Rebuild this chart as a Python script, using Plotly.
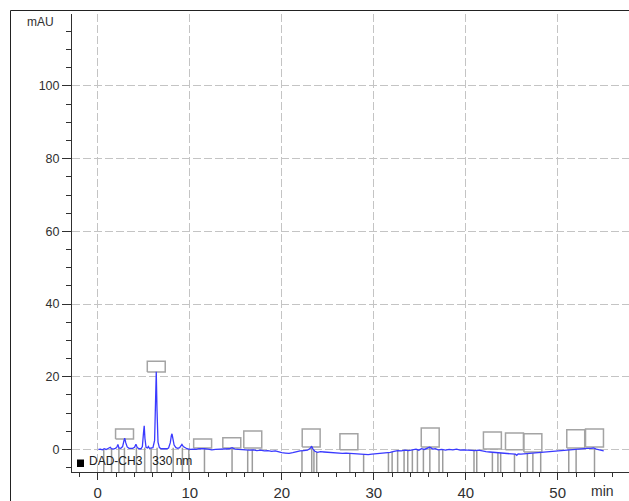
import numpy as np
import plotly.graph_objects as go

# ---- chromatogram data: DAD-CH3, 330 nm ----
rt = [0.08, 0.3, 0.5, 0.7, 0.9, 1.1, 1.25, 1.36, 1.48, 1.7, 1.9, 2.05, 2.19, 2.3, 2.5,
      2.7, 2.85, 2.93, 3.05, 3.2, 3.4, 3.6, 3.8, 4.0, 4.15, 4.3, 4.5, 4.7, 4.85, 4.97,
      5.05, 5.13, 5.25, 5.4, 5.5, 5.62, 5.8, 6.0, 6.18, 6.28, 6.36, 6.44, 6.55, 6.7, 6.9,
      7.1, 7.3, 7.5, 7.7, 7.88, 8.0, 8.07, 8.17, 8.3, 8.5, 8.7, 8.9, 9.05, 9.15, 9.3,
      9.5, 9.7, 9.9, 10.1, 10.4, 10.7, 11.0, 11.3, 11.6, 12.0, 12.4, 12.8, 13.2, 13.6, 14.0,
      14.3, 14.6, 14.9, 15.3, 15.7, 16.1, 16.5, 16.9, 17.3, 17.7, 18.1, 18.5, 18.9, 19.3, 19.7,
      20.0, 20.4, 20.8, 21.2, 21.6, 22.0, 22.4, 22.8, 23.1, 23.25, 23.4, 23.6, 23.9, 24.2, 24.6,
      25.0, 25.4, 25.8, 26.2, 26.6, 27.0, 27.4, 27.8, 28.2, 28.6, 29.0, 29.4, 29.8, 30.2, 30.6,
      31.0, 31.4, 31.8, 32.2, 32.6, 33.0, 33.4, 33.8, 34.2, 34.6, 34.9, 35.2, 35.5, 35.8, 36.05,
      36.2, 36.4, 36.7, 37.0, 37.4, 37.8, 38.2, 38.6, 39.0, 39.4, 39.8, 40.2, 40.6, 41.0, 41.4,
      41.8, 42.2, 42.6, 43.0, 43.4, 43.8, 44.2, 44.6, 45.0, 45.4, 45.55, 45.7, 46.0, 46.4, 46.8,
      47.2, 47.6, 48.0, 48.4, 48.8, 49.2, 49.6, 50.0, 50.4, 50.8, 51.2, 51.6, 52.0, 52.4, 52.8,
      53.2, 53.6, 53.9, 54.2, 54.5, 54.8, 55.0]
mau = [0.0, 0.1, -0.1, 0.2, 0.0, 0.2, 0.3, 0.6, 0.2, 0.1, 0.3, 0.5, 1.4, 0.4, 0.3,
       0.8, 2.4, 3.1, 1.8, 0.7, 0.3, 0.2, 0.3, 0.6, 1.4, 0.5, 0.2, 0.2, 0.8, 4.5,
       6.5, 3.0, 0.6, 0.4, 0.8, 0.3, 0.3, 0.5, 2.5, 12.0, 21.4, 11.0, 2.0, 0.5, 0.2,
       0.2, 0.1, 0.2, 0.4, 1.8, 3.8, 4.3, 3.0, 1.2, 0.5, 0.3, 0.5, 1.1, 1.4, 0.8,
       0.4, 0.2, 0.1, 0.0, 0.1, 0.0, 0.2, 0.1, 0.2, 0.1, -0.1, 0.0, 0.1, 0.0, 0.2,
       0.2, 0.5, 0.1, 0.0, -0.1, 0.0, -0.2, -0.1, -0.3, -0.2, -0.4, -0.3, -0.5, -0.4, -0.7,
       -0.9, -1.0, -1.1, -0.9, -0.6, -0.4, -0.3, -0.2, 0.3, 0.9, 0.1, -0.5, -0.8, -0.6, -0.7,
       -0.8, -0.9, -1.0, -0.9, -1.1, -1.0, -1.1, -1.2, -1.3, -1.2, -1.3, -1.4, -1.3, -1.2, -1.2,
       -1.1, -1.0, -0.8, -0.5, -0.3, -0.4, -0.2, -0.3, 0.0, 0.1, -0.2, 0.2, 0.0, 0.3, 0.6,
       0.5, 0.1, 0.2, -0.1, 0.0, -0.2, 0.0, -0.1, 0.1, -0.2, -0.1, -0.2, -0.2, -0.3, -0.2,
       -0.5, -0.6, -0.7, -0.8, -0.8, -0.9, -1.0, -1.0, -1.1, -1.3, -1.6, -1.2, -1.3, -1.2, -1.2,
       -1.1, -1.0, -0.9, -0.8, -0.6, -0.5, -0.4, -0.3, -0.2, -0.1, 0.0, 0.0, 0.1, 0.2, 0.2,
       0.3, 0.3, 0.4, 0.1, -0.1, -0.2, -0.4]

# integration event marks (min)
peak_marks = [0.65, 1.5, 2.3, 2.9, 4.2, 5.1, 5.8, 6.45, 8.2, 9.2, 9.9, 11.6, 14.6, 16.3,
              16.8, 22.2, 23.26, 23.5, 23.8, 27.4, 28.9, 31.6, 32.0, 32.6, 33.3, 33.7,
              34.2, 34.75, 35.4, 36.1, 37.1, 37.5, 40.9, 41.2, 42.9, 43.5, 43.8, 45.3,
              46.7, 47.3, 48.15, 51.2, 52.0, 54.0]

# peak label boxes: retention time, lower and upper edge (mAU)
label_rt = [2.91, 6.36, 11.4, 14.57, 16.85, 23.2, 27.3, 36.14, 42.9, 45.3, 47.3, 51.96, 54.0]
label_lo = [2.9, 21.3, 0.4, 0.4, 0.4, 0.7, -0.1, 0.7, 0.1, -0.1, -0.7, 0.4, 0.7]
label_hi = [5.6, 24.3, 2.9, 3.2, 5.1, 5.6, 4.3, 5.9, 4.8, 4.5, 4.3, 5.4, 5.6]

x_ticks = [0, 10, 20, 30, 40, 50]
y_ticks = [0, 20, 40, 60, 80, 100, 120]
y_ticktext = ["0", "20", "40", "60", "80", "100", ""]

# ---- layout geometry ----
W, H = 629, 501
ML, MR, MT, MB = 72, 0, 14, 29
X_RANGE = [-2.8, 57.75]
Y_RANGE = [-6.2, 119.8]
BOX_W = 1.95
FONT = "Liberation Sans, Arial, sans-serif"
INK = "#303030"


def px(x):
    return (x - ML) / (W - ML - MR)


def py(y):
    return (H - MB - y) / (H - MT - MB)


fig = go.Figure()

# vertical integration marks
mx, my = [], []
for t in peak_marks:
    top = min(float(np.interp(t, rt, mau)), 0.5)
    mx += [t, t, None]
    my += [top, Y_RANGE[0], None]
fig.add_trace(go.Scatter(x=mx, y=my, mode="lines",
                         line=dict(color="#9c9c9c", width=1.5), hoverinfo="skip"))

# label boxes
bx, by = [], []
for t, lo, hi in zip(label_rt, label_lo, label_hi):
    a, b = t - BOX_W / 2, t + BOX_W / 2
    bx += [a, b, b, a, a, None]
    by += [lo, lo, hi, hi, lo, None]
fig.add_trace(go.Scatter(x=bx, y=by, mode="lines",
                         line=dict(color="#a4a4a4", width=1.5), hoverinfo="skip"))

# signal
fig.add_trace(go.Scatter(x=rt, y=mau, mode="lines",
                         line=dict(color="#3a3aff", width=1.3)))

# outer frame
fig.add_shape(type="line", xref="paper", yref="paper",
              x0=px(10.5), x1=px(10.5), y0=py(10.5), y1=py(H + 5),
              line=dict(color="#222222", width=1))
fig.add_shape(type="line", xref="paper", yref="paper",
              x0=px(10.5), x1=px(W + 5), y0=py(10.5), y1=py(10.5),
              line=dict(color="#222222", width=1))

# legend marker
fig.add_shape(type="rect", xref="paper", yref="paper",
              x0=px(77), x1=px(84), y0=py(467), y1=py(459.5),
              fillcolor="black", line=dict(width=0))

fig.add_annotation(xref="paper", yref="paper", x=px(87), y=py(461),
                   xanchor="left", yanchor="middle", showarrow=False,
                   text="DAD-CH3\u00a0\u00a0 330 nm",
                   font=dict(family=FONT, size=12, color="#202020"))
fig.add_annotation(xref="paper", yref="paper", x=px(40), y=py(22),
                   xanchor="center", yanchor="middle", showarrow=False,
                   text="mAU", font=dict(family=FONT, size=12, color=INK))
fig.add_annotation(xref="paper", yref="paper", x=px(602), y=py(491),
                   xanchor="center", yanchor="middle", showarrow=False,
                   text="min", font=dict(family=FONT, size=14, color=INK))

grid = dict(showgrid=True, gridcolor="#c4c4c4", gridwidth=1, griddash="8px,3px")

fig.update_xaxes(range=X_RANGE, tickvals=x_ticks, ticks="outside", ticklen=7,
                 tickcolor=INK, tickwidth=1, showline=True, linecolor=INK, linewidth=1,
                 zeroline=False, tickfont=dict(family=FONT, size=15, color=INK),
                 minor=dict(dtick=2, tick0=0, ticks="outside", ticklen=4,
                            tickcolor=INK, showgrid=False),
                 **grid)
fig.update_yaxes(range=Y_RANGE, tickvals=y_ticks, ticktext=y_ticktext, ticks="outside",
                 ticklen=9, tickcolor=INK, tickwidth=1, showline=True, linecolor=INK,
                 linewidth=1, zeroline=False,
                 tickfont=dict(family=FONT, size=12.5, color=INK),
                 minor=dict(dtick=5, tick0=0, ticks="outside", ticklen=5,
                            tickcolor=INK, showgrid=False),
                 **grid)

fig.update_layout(width=W, height=H, margin=dict(l=ML, r=MR, t=MT, b=MB, pad=0),
                  paper_bgcolor="white", plot_bgcolor="white", showlegend=False)

fig.write_html("out.html")
